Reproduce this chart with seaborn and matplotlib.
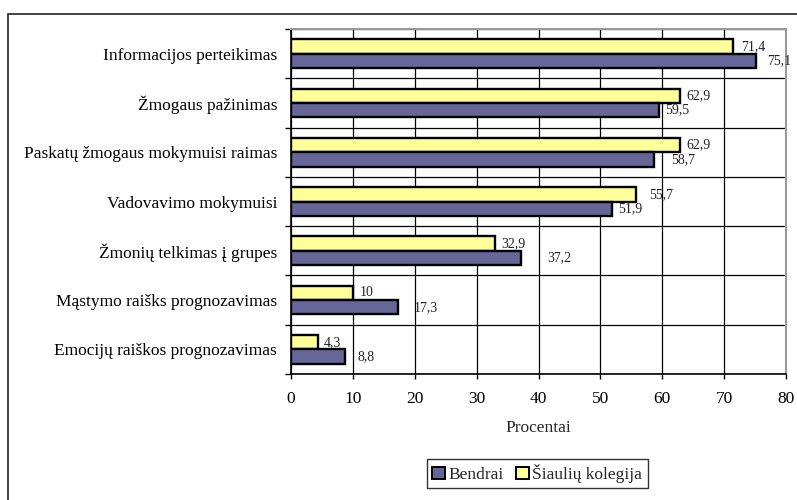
import matplotlib
matplotlib.use("Agg")
import matplotlib.pyplot as plt
from matplotlib.patches import Rectangle, Patch
from matplotlib.ticker import FixedLocator, MultipleLocator
import seaborn as sns
import pandas as pd

categories = [
    "Informacijos perteikimas",
    "Žmogaus pažinimas",
    "Paskatų žmogaus mokymuisi raimas",
    "Vadovavimo mokymuisi",
    "Žmonių telkimas į grupes",
    "Mąstymo raišks prognozavimas",
    "Emocijų raiškos prognozavimas",
]
bendrai = [75.1, 59.5, 58.7, 51.9, 37.2, 17.3, 8.8]
kolegija = [71.4, 62.9, 62.9, 55.7, 32.9, 10.0, 4.3]
value_labels_bendrai = ["75,1", "59,5", "58,7", "51,9", "37,2", "17,3", "8,8"]
value_labels_kolegija = ["71,4", "62,9", "62,9", "55,7", "32,9", "10", "4,3"]
series_names = ["Bendrai", "Šiaulių kolegija"]
x_ticks = [0, 10, 20, 30, 40, 50, 60, 70, 80]

# horizontal gaps (points) between bar ends and their value labels
gap_bendrai = [8, 4.5, 12, 4.5, 19, 11, 9]
gap_kolegija = [6, 4.5, 4.5, 9.5, 4.5, 5, 4.5]

purple = "#666699"
yellow = "#FFFF99"

df = pd.DataFrame({
    "kategorija": categories * 2,
    "reikšmė": kolegija + bendrai,
    "serija": [series_names[1]] * len(categories) + [series_names[0]] * len(categories),
})

sns.set_theme(style="white")
plt.rcParams["font.family"] = ["Liberation Serif", "DejaVu Serif"]

fig = plt.figure(figsize=(7.97, 5.0), dpi=100)
ax = fig.add_axes([291 / 797, 1 - 374 / 500, (786 - 291) / 797, (374 - 29) / 500])

sns.barplot(
    data=df, y="kategorija", x="reikšmė", hue="serija",
    hue_order=[series_names[1], series_names[0]],
    palette=[yellow, purple], orient="h", width=0.58,
    edgecolor="black", linewidth=1.7, legend=False, ax=ax,
    saturation=1,
)

# value labels next to each bar
for cont, vals, texts, gaps in [
    (ax.containers[0], kolegija, value_labels_kolegija, gap_kolegija),
    (ax.containers[1], bendrai, value_labels_bendrai, gap_bendrai),
]:
    for bar, v, t, g in zip(cont.patches, vals, texts, gaps):
        yc = bar.get_y() + bar.get_height() / 2
        ax.annotate(t, xy=(v, yc), xytext=(g, 0), textcoords="offset points",
                    ha="left", va="center", fontsize=10, color="#222222")

ax.set_xlim(0, 80)
ax.set_ylim(6.5, -0.5)
ax.xaxis.set_major_locator(FixedLocator(x_ticks))
ax.set_xticklabels([str(t) for t in x_ticks], fontsize=12.5)
ax.yaxis.set_minor_locator(MultipleLocator(1, offset=0.5))
ax.set_yticks(range(len(categories)))
ax.set_yticklabels(categories, fontsize=12.5)
ax.set_xlabel("Procentai", fontsize=12.5, labelpad=9)
ax.set_ylabel("")

ax.tick_params(axis="y", which="major", length=0, pad=10)
ax.tick_params(axis="y", which="minor", left=True, length=4, width=1, color="black", direction="out")
ax.tick_params(axis="x", which="major", bottom=True, length=3.5, width=1, color="black", pad=9, direction="out")
ax.tick_params(colors="black", labelcolor="black")

ax.set_axisbelow(True)
ax.grid(axis="x", which="major", color="black", linewidth=0.9)
ax.grid(axis="y", which="minor", color="black", linewidth=0.9)
ax.grid(axis="y", which="major", visible=False)

for side in ["left", "bottom"]:
    ax.spines[side].set_color("black")
    ax.spines[side].set_linewidth(1.2)
for side in ["top", "right"]:
    ax.spines[side].set_color("#999999")
    ax.spines[side].set_linewidth(1.5)

handles = [Patch(facecolor=purple, edgecolor="black", linewidth=1.4),
           Patch(facecolor=yellow, edgecolor="black", linewidth=1.4)]
leg = fig.legend(handles, series_names, loc="center", bbox_to_anchor=(0.674, 0.053),
                 ncol=2, fontsize=12.5, frameon=True, fancybox=False, shadow=False,
                 handlelength=0.75, handleheight=0.75, handletextpad=0.2,
                 columnspacing=0.7, borderpad=0.3, borderaxespad=0)
leg.get_frame().set_edgecolor("black")
leg.get_frame().set_linewidth(1.0)

# outer chart frame
fig.patches.append(Rectangle((8 / 797, -0.05), 1.2, 1 - 14 / 500 + 0.05,
                             transform=fig.transFigure, fill=False,
                             edgecolor="#222222", linewidth=1.2))

fig.savefig("out.png", dpi=100)
